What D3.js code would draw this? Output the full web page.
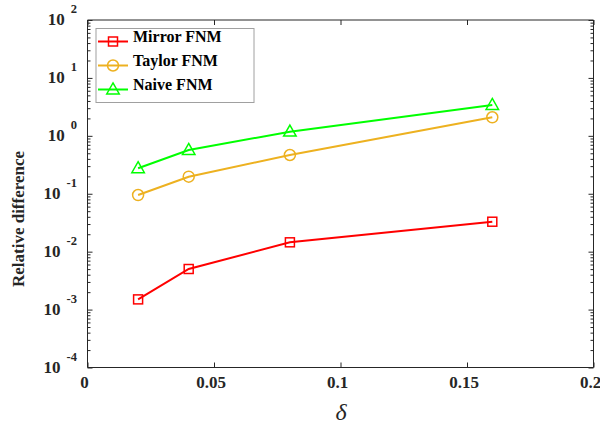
<!DOCTYPE html>
<html>
<head>
<meta charset="utf-8">
<script src="https://cdn.jsdelivr.net/npm/d3@7"></script>
<style>
  html, body { margin: 0; padding: 0; background: #fff; }
  svg { display: block; }
  text { font-family: "Liberation Serif", "Times New Roman", serif; }
</style>
</head>
<body>
<svg id="chart" width="600" height="428"></svg>
<script>
// Step sizes and relative differences of the three FNM schemes
const deltas = [0.02, 0.04, 0.08, 0.16];
const mirrorFNM = [0.00150, 0.00502, 0.0145, 0.0329];
const taylorFNM = [0.095, 0.197, 0.467, 2.09];
const naiveFNM = [0.275, 0.569, 1.18, 3.40];

const seriesNames = ["Mirror FNM", "Taylor FNM", "Naive FNM"];
const seriesColors = ["#ff0000", "#edb120", "#00ff00"];
const seriesMarkers = ["square", "circle", "triangle"];

const xTicks = [0, 0.05, 0.1, 0.15, 0.2];
const xTickLabels = ["0", "0.05", "0.1", "0.15", "0.2"];
const yDecades = [-4, -3, -2, -1, 0, 1, 2];

const series = seriesNames.map((name, i) => ({
  name,
  color: seriesColors[i],
  marker: seriesMarkers[i],
  values: [mirrorFNM, taylorFNM, naiveFNM][i].map((v, j) => ({ x: deltas[j], y: v }))
}));

const svg = d3.select("#chart");
const plotL = 87.5, plotR = 593.5, plotT = 20, plotB = 367.5;

const x = d3.scaleLinear().domain([0, 0.2]).range([plotL, plotR]);
const y = d3.scaleLog().domain([1e-4, 1e2]).range([plotB, plotT]);

const axisColor = "#262626";

// Minor log ticks (2..9 within each decade)
const minorTicks = [];
for (let e = -4; e < 2; e++) {
  for (let m = 2; m <= 9; m++) minorTicks.push(m * Math.pow(10, e));
}
const majorTicks = yDecades.map(e => Math.pow(10, e));

// Left axis (ticks point inward)
const gLeft = svg.append("g").attr("transform", `translate(${plotL},0)`);
gLeft.call(d3.axisRight(y).tickValues(majorTicks).tickSize(5).tickFormat(""));
gLeft.append("g").call(d3.axisRight(y).tickValues(minorTicks).tickSize(3).tickFormat(""))
  .select(".domain").remove();

// Right axis
const gRight = svg.append("g").attr("transform", `translate(${plotR},0)`);
gRight.call(d3.axisLeft(y).tickValues(majorTicks).tickSize(5).tickFormat(""));
gRight.append("g").call(d3.axisLeft(y).tickValues(minorTicks).tickSize(3).tickFormat(""))
  .select(".domain").remove();

// Bottom and top axes
const gBottom = svg.append("g").attr("transform", `translate(0,${plotB})`);
gBottom.call(d3.axisTop(x).tickValues(xTicks).tickSize(5).tickFormat(""));
const gTop = svg.append("g").attr("transform", `translate(0,${plotT})`);
gTop.call(d3.axisBottom(x).tickValues(xTicks).tickSize(5).tickFormat(""));

svg.selectAll(".domain").attr("stroke", axisColor).attr("stroke-width", 1);
svg.selectAll(".tick line").attr("stroke", axisColor).attr("stroke-width", 1);
[gBottom, gTop].forEach(g => g.select(".domain").attr("d", `M${plotL},0H${plotR}`));
[gLeft, gRight].forEach(g => g.select(".domain").attr("d", `M0,${plotT}V${plotB}`));

// X tick labels
svg.append("g").selectAll("text")
  .data(xTicks)
  .join("text")
  .attr("x", d => x(d) - 3)
  .attr("y", plotB + 20)
  .attr("text-anchor", "middle")
  .attr("font-size", 17)
  .attr("font-weight", "bold")
  .attr("fill", "#262626")
  .text((d, i) => xTickLabels[i]);

// Y tick labels: 10 with superscript exponent
const yLab = svg.append("g").selectAll("text")
  .data(yDecades)
  .join("text")
  .attr("x", 77)
  .attr("y", d => y(Math.pow(10, d)) + 5)
  .attr("text-anchor", "end")
  .attr("font-weight", "bold")
  .attr("fill", "#262626");
yLab.append("tspan").attr("font-size", 17).text("10");
yLab.append("tspan").attr("font-size", 12.5).attr("dx", 6).attr("dy", -12).text(d => d);

// Axis titles
svg.append("text")
  .attr("transform", `translate(24,219) rotate(-90)`)
  .attr("text-anchor", "middle")
  .attr("font-size", 17)
  .attr("font-weight", "bold")
  .attr("fill", "#262626")
  .text("Relative difference");

svg.append("text")
  .attr("x", 341)
  .attr("y", 420)
  .attr("text-anchor", "middle")
  .attr("font-size", 24)
  .attr("font-style", "italic")
  .attr("fill", "#262626")
  .text("δ");

// Marker drawing helper
function drawMarker(g, type, cx, cy, color) {
  if (type === "square") {
    g.append("rect").attr("x", cx - 4.5).attr("y", cy - 4.5).attr("width", 9).attr("height", 9)
      .attr("fill", "none").attr("stroke", color).attr("stroke-width", 1.5);
  } else if (type === "circle") {
    g.append("circle").attr("cx", cx).attr("cy", cy).attr("r", 5.5)
      .attr("fill", "none").attr("stroke", color).attr("stroke-width", 1.5);
  } else {
    const h = 11, w = 12.5;
    g.append("path")
      .attr("d", `M${cx},${cy - h * 0.6}L${cx + w / 2},${cy + h * 0.4}L${cx - w / 2},${cy + h * 0.4}Z`)
      .attr("fill", "none").attr("stroke", color).attr("stroke-width", 1.5);
  }
}

// Series lines and markers
const line = d3.line().x(d => x(d.x)).y(d => y(d.y));
series.forEach(s => {
  const g = svg.append("g");
  g.append("path").datum(s.values).attr("d", line)
    .attr("fill", "none").attr("stroke", s.color).attr("stroke-width", 2);
  s.values.forEach(d => drawMarker(g, s.marker, x(d.x), y(d.y), s.color));
});

// Legend
const legend = svg.append("g");
legend.append("rect").attr("x", 96).attr("y", 28.5).attr("width", 158).attr("height", 74)
  .attr("fill", "#fff").attr("stroke", "#a0a0a0").attr("stroke-width", 1);
const legRows = [41.5, 65.5, 89.5];
series.forEach((s, i) => {
  const yy = legRows[i];
  legend.append("line").attr("x1", 98).attr("x2", 128).attr("y1", yy).attr("y2", yy)
    .attr("stroke", s.color).attr("stroke-width", 2);
  drawMarker(legend, s.marker, 113, yy, s.color);
  legend.append("text").attr("x", 133).attr("y", yy)
    .attr("font-size", 16).attr("font-weight", "bold").attr("fill", "#000")
    .text(s.name);
});
</script>
</body>
</html>
